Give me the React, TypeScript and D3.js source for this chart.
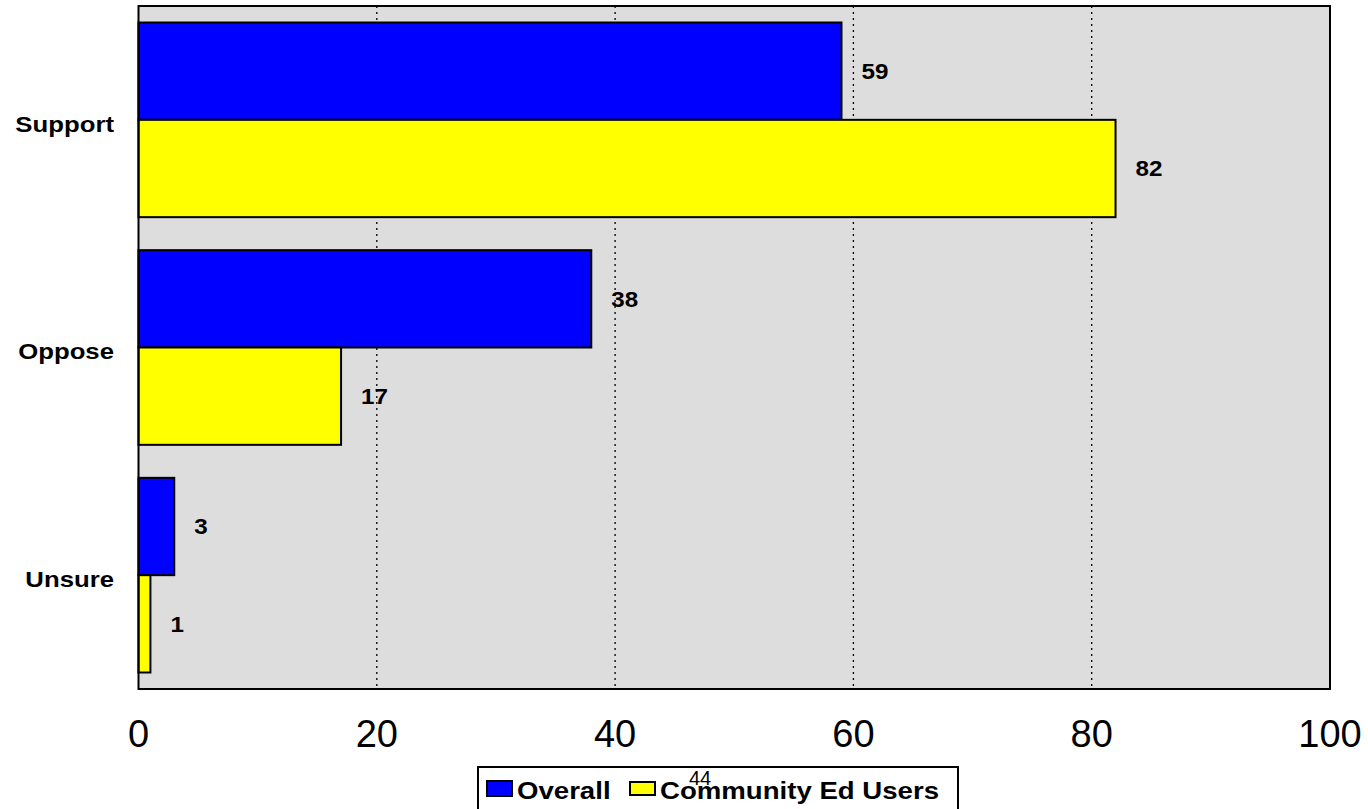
import React from "react";
import * as d3 from "d3";

const categories = ["Support", "Oppose", "Unsure"];
const seriesNames = ["Overall", "Community Ed Users"];
const overall = [59, 38, 3];
const communityEd = [82, 17, 1];
const xTicks = [0, 20, 40, 60, 80, 100];
const colors = ["#0000FF", "#FFFF00"];

const font = "Arial, 'Liberation Sans', sans-serif";

function SText(props: { x: number; y: number; sx: number; size: number; anchor?: string; bold?: boolean; dy?: string; children: React.ReactNode }) {
  const { x, y, sx, size, anchor, bold, dy, children } = props;
  return (
    <g transform={`translate(${x},${y}) scale(${sx},1)`}>
      <text x={0} y={0} dy={dy} textAnchor={anchor || "start"} fontFamily={font} fontWeight={bold ? "bold" : "normal"} fontSize={size} fill="#000">
        {children}
      </text>
    </g>
  );
}

export default function App() {
  const W = 1368, H = 809;
  const left = 138.5, right = 1330, top = 6, bottom = 689;
  const x = d3.scaleLinear().domain([0, 100]).range([left, right]);
  const y = d3.scaleBand().domain(categories).range([top, bottom]).paddingInner(0.145).paddingOuter(0.0725);
  const ySub = d3.scaleBand().domain(seriesNames).range([0, y.bandwidth()]);
  const series = [overall, communityEd];
  return (
    <svg width={W} height={H} style={{ position: "absolute", left: 0, top: 0 }}>
      <rect x={0} y={0} width={W} height={H} fill="#fff" />
      <rect x={left} y={top} width={right - left} height={bottom - top} fill="#DDDDDD" />
      {xTicks.slice(1, -1).map((t) => (
        <line key={t} x1={x(t)} x2={x(t)} y1={top} y2={bottom} stroke="#000" strokeWidth={1.3} strokeDasharray="2,4" />
      ))}
      {categories.map((c, i) =>
        series.map((s, j) => {
          const y0 = (y(c) as number) + (ySub(seriesNames[j]) as number);
          const h = ySub.bandwidth();
          return (
            <g key={c + j}>
              <rect x={x(0)} y={y0} width={x(s[i]) - x(0)} height={h} fill={colors[j]} stroke="#000" strokeWidth={2} />
              <SText x={x(s[i]) + 20} y={y0 + h / 2} dy="0.36em" sx={1.1} size={22} bold>
                {s[i]}
              </SText>
            </g>
          );
        })
      )}
      <rect x={left} y={top} width={right - left} height={bottom - top} fill="none" stroke="#000" strokeWidth={2} />
      {categories.map((c) => (
        <SText key={c} x={114} y={(y(c) as number) + y.bandwidth() / 2 + 4} dy="0.36em" anchor="end" sx={1.17} size={22} bold>
          {c}
        </SText>
      ))}
      {xTicks.map((t) => (
        <text key={t} x={x(t)} y={747} textAnchor="middle" fontFamily={font} fontSize={38} fill="#000">
          {t}
        </text>
      ))}
      <rect x={478} y={767} width={480} height={60} fill="#fff" stroke="#000" strokeWidth={2} />
      <rect x={487} y={781} width={25} height={15} fill={colors[0]} stroke="#000" strokeWidth={2} />
      <SText x={517} y={799} sx={1.2} size={23} bold>{seriesNames[0]}</SText>
      <rect x={630} y={782} width={25} height={13} fill={colors[1]} stroke="#000" strokeWidth={2} />
      <SText x={660} y={799} sx={1.2} size={23} bold>{seriesNames[1]}</SText>
      <text x={689} y={785} fontFamily={font} fontSize={20} fill="#000">44</text>
    </svg>
  );
}
